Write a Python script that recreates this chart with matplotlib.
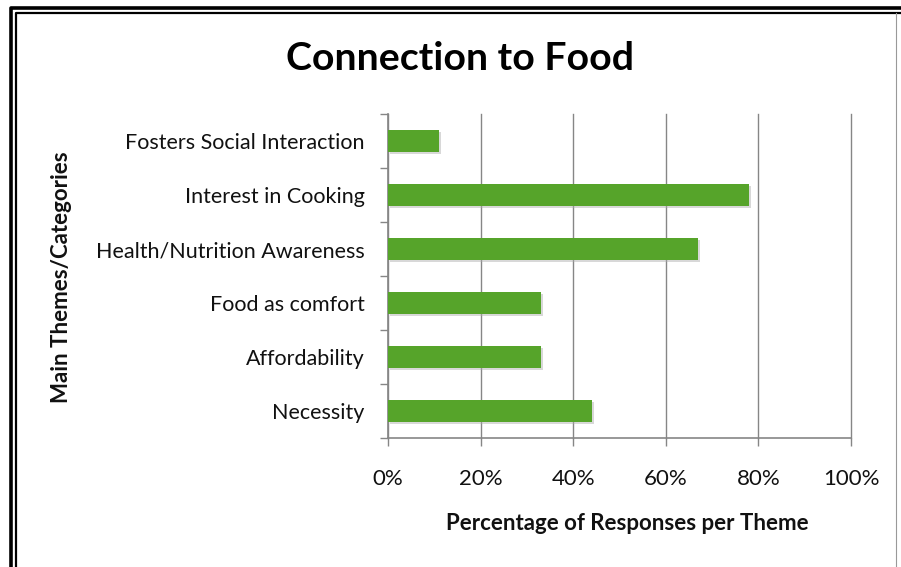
import matplotlib
matplotlib.use("Agg")
import matplotlib.pyplot as plt
from matplotlib.lines import Line2D
import matplotlib.patheffects as pe
from matplotlib.ticker import FixedLocator, PercentFormatter

categories = ["Fosters Social Interaction", "Interest in Cooking", "Health/Nutrition Awareness",
              "Food as comfort", "Affordability", "Necessity"]
values = [11, 78, 67, 33, 33, 44]
xticks = [0, 20, 40, 60, 80, 100]

plt.rcParams['font.family'] = ['Lato', 'DejaVu Sans']

W, H = 901, 567
fig = plt.figure(figsize=(W / 100, H / 100), dpi=100)
ax = fig.add_axes([388 / W, 1 - 438 / H, (851 - 388) / W, (438 - 114) / H])

n = len(categories)
ypos = list(range(n))[::-1]
bars = ax.barh(ypos, values, height=0.41, color="#56A42A", zorder=3)
for b in bars:
    b.set_path_effects([pe.SimplePatchShadow(offset=(1.5, -1.5), shadow_rgbFace="#aaaaaa", alpha=0.45), pe.Normal()])

ax.set_xlim(0, 100)
ax.set_ylim(-0.5, n - 0.5)
ax.set_xticks(xticks)
ax.xaxis.set_major_formatter(PercentFormatter(decimals=0))
ax.set_yticks(ypos)
ax.set_yticklabels(categories)
ax.yaxis.set_minor_locator(FixedLocator([i - 0.5 for i in range(n + 1)]))
ax.tick_params(axis='y', which='major', length=0, pad=17, labelsize=15.5, labelcolor="#111111")
ax.tick_params(axis='y', which='minor', length=6, width=1, color="#868686", direction='out')
ax.tick_params(axis='x', which='major', length=6, width=1, color="#868686", direction='out',
               pad=16, labelsize=16, labelcolor="#111111")

ax.grid(axis='x', color="#868686", linewidth=1, zorder=0)
for gl in ax.get_xgridlines():
    gl.set_clip_on(False)
for s in ['top', 'right']:
    ax.spines[s].set_visible(False)
for s in ['left', 'bottom']:
    ax.spines[s].set_color("#868686")
    ax.spines[s].set_linewidth(1.2)

fig.text(460 / W, 1 - 58 / H, "Connection to Food", ha='center', va='center',
         fontsize=28.3, fontweight='bold', color="#000000")
fig.text(61 / W, 1 - 277 / H, "Main Themes/Categories", ha='center', va='center',
         rotation=90, fontsize=16, fontweight='bold', color="#111111")
fig.text(627 / W, 1 - 523 / H, "Percentage of Responses per Theme", ha='center', va='center',
         fontsize=16, fontweight='bold', color="#111111")

# border
def fx(x):
    return x / W

def fy(y):
    return 1 - y / H

fig.add_artist(Line2D([fx(10.5), fx(10.5), fx(W)], [fy(H), fy(8), fy(8)], color='black',
                      linewidth=2.6, solid_joinstyle='round', transform=fig.transFigure))
fig.add_artist(Line2D([fx(15.5), fx(15.5), fx(W)], [fy(H), fy(13), fy(13)], color='black',
                      linewidth=1.6, transform=fig.transFigure))
fig.add_artist(Line2D([fx(896), fx(896)], [fy(13), fy(H)], color='#999999',
                      linewidth=0.8, transform=fig.transFigure))

fig.savefig("out.png", dpi=100)
